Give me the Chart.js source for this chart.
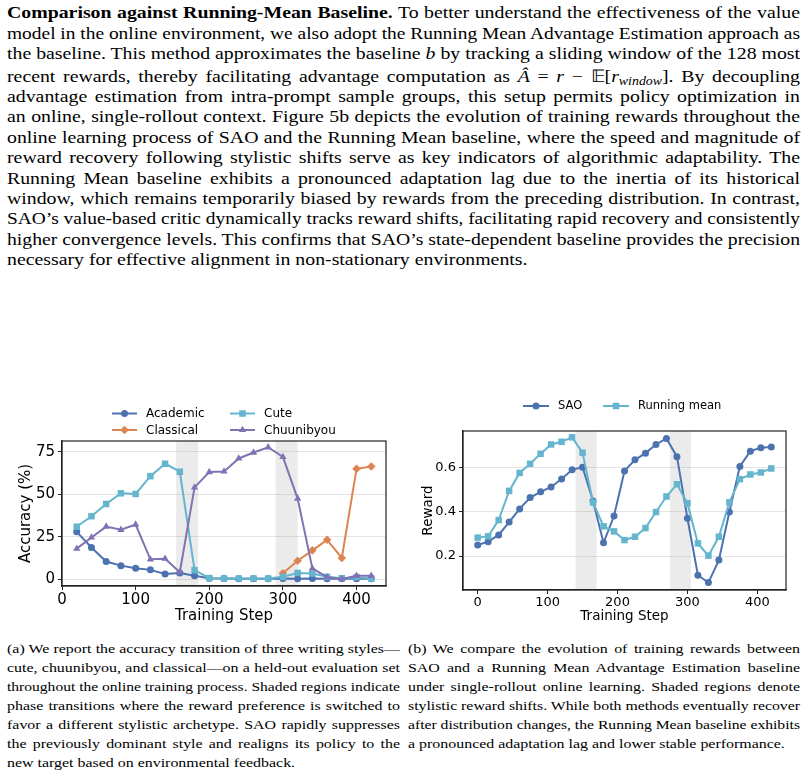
<!DOCTYPE html>
<html>
<head>
<meta charset="utf-8">
<script src="https://cdn.jsdelivr.net/npm/chart.js@4.4.1/dist/chart.umd.min.js"></script>
<style>
  html, body { margin: 0; padding: 0; background: #fff; }
  #page { position: relative; width: 807px; height: 776px; overflow: hidden; font-family: "Liberation Serif", "Times New Roman", serif; color: #000; }
  .ln { position: absolute; white-space: nowrap; }
  .ln > span { display: inline-block; transform-origin: 0 50%; }
  .body { left: 7px; width: 793px; font-size: 17px; line-height: 20px; }
  .cap { font-size: 13.5px; line-height: 19px; }
  .capa { left: 7px; width: 393px; }
  .capb { left: 408px; width: 392px; }
  sub { font-size: 70%; vertical-align: -3px; line-height: 0; }
  .chartbox { position: absolute; }
</style>
</head>
<body>
<div id="page">
  <div class="ln body j" style="top:3px"><b>Comparison against Running-Mean Baseline.</b> To better understand the effectiveness of the value</div>
  <div class="ln body j" style="top:24px">model in the online environment, we also adopt the Running Mean Advantage Estimation approach as</div>
  <div class="ln body j" style="top:44px">the baseline. This method approximates the baseline <i>b</i> by tracking a sliding window of the 128 most</div>
  <div class="ln body j" style="top:67px">recent rewards, thereby facilitating advantage computation as <i>Â</i> = <i>r</i> − 𝔼[<i>r<sub>window</sub></i>]. By decoupling</div>
  <div class="ln body j" style="top:87px">advantage estimation from intra-prompt sample groups, this setup permits policy optimization in</div>
  <div class="ln body j" style="top:107px">an online, single-rollout context. Figure 5b depicts the evolution of training rewards throughout the</div>
  <div class="ln body j" style="top:128px">online learning process of SAO and the Running Mean baseline, where the speed and magnitude of</div>
  <div class="ln body j" style="top:148px">reward recovery following stylistic shifts serve as key indicators of algorithmic adaptability. The</div>
  <div class="ln body j" style="top:169px">Running Mean baseline exhibits a pronounced adaptation lag due to the inertia of its historical</div>
  <div class="ln body j" style="top:189px">window, which remains temporarily biased by rewards from the preceding distribution. In contrast,</div>
  <div class="ln body j" style="top:209px">SAO’s value-based critic dynamically tracks reward shifts, facilitating rapid recovery and consistently</div>
  <div class="ln body j" style="top:230px">higher convergence levels. This confirms that SAO’s state-dependent baseline provides the precision</div>
  <div class="ln body" style="top:250px">necessary for effective alignment in non-stationary environments.</div>

  <div class="chartbox" style="left:0px;top:395px;width:400px;height:230px"><canvas id="chartA"></canvas></div>
  <div class="chartbox" style="left:400px;top:390px;width:407px;height:235px"><canvas id="chartB"></canvas></div>

  <div class="ln cap capa j" style="top:639px">(a) We report the accuracy transition of three writing styles—</div>
  <div class="ln cap capa j" style="top:658px">cute, chuunibyou, and classical—on a held-out evaluation set</div>
  <div class="ln cap capa j" style="top:677px">throughout the online training process. Shaded regions indicate</div>
  <div class="ln cap capa j" style="top:696px">phase transitions where the reward preference is switched to</div>
  <div class="ln cap capa j" style="top:715px">favor a different stylistic archetype. SAO rapidly suppresses</div>
  <div class="ln cap capa j" style="top:734px">the previously dominant style and realigns its policy to the</div>
  <div class="ln cap capa" style="top:753px">new target based on environmental feedback.</div>

  <div class="ln cap capb j" style="top:639px">(b) We compare the evolution of training rewards between</div>
  <div class="ln cap capb j" style="top:658px">SAO and a Running Mean Advantage Estimation baseline</div>
  <div class="ln cap capb j" style="top:677px">under single-rollout online learning. Shaded regions denote</div>
  <div class="ln cap capb j" style="top:696px">stylistic reward shifts. While both methods eventually recover</div>
  <div class="ln cap capb j" style="top:715px">after distribution changes, the Running Mean baseline exhibits</div>
  <div class="ln cap capb" style="top:734px">a pronounced adaptation lag and lower stable performance.</div>
</div>

<script>
// ---- data: figure (a), accuracy per writing style ----
const stepsA = [20, 40, 60, 80, 100, 120, 140, 160, 180, 200, 220, 240, 260, 280, 300, 320, 340, 360, 380, 400, 420];
const academic = [27.9, 18.7, 10.4, 8.0, 6.4, 5.5, 3.1, 3.7, 2.1, 0.6, 0.4, 0.3, 0.3, 0.3, 0.4, 0.3, 0.4, 0.3, 0.3, 0.3, 0.3];
const classical = [null, null, null, null, null, null, null, null, null, null, null, null, null, null, 3.5, 10.9, 17.0, 23.2, 12.5, 65.0, 66.4];
const cute = [30.9, 37.1, 44.3, 50.6, 50.2, 60.7, 68.0, 63.3, 5.3, 0.6, 0.4, 0.4, 0.4, 0.4, 1.4, 3.7, 3.3, 1.4, 0.6, 1.2, 0.4];
const chuunibyou = [18.0, 24.6, 31.0, 29.1, 32.2, 11.7, 12.1, 4.1, 54.1, 63.1, 63.5, 71.1, 74.6, 77.7, 72.0, 47.5, 6.4, 1.2, 0.2, 2.0, 2.0];
const shadedA = [[155, 185], [290, 320]];
const xTicksA = [0, 100, 200, 300, 400];
const yTicksA = [0, 25, 50, 75];

// ---- data: figure (b), training reward ----
const stepsB = [0, 15, 30, 45, 60, 75, 90, 105, 120, 135, 150, 165, 180, 195, 210, 225, 240, 255, 270, 285, 300, 315, 330, 345, 360, 375, 390, 405, 420];
const sao = [0.250, 0.265, 0.295, 0.353, 0.412, 0.463, 0.489, 0.511, 0.547, 0.588, 0.600, 0.448, 0.260, 0.380, 0.583, 0.633, 0.663, 0.702, 0.729, 0.647, 0.370, 0.114, 0.081, 0.182, 0.398, 0.603, 0.672, 0.687, 0.690];
const runningMean = [0.283, 0.289, 0.362, 0.493, 0.574, 0.615, 0.660, 0.702, 0.714, 0.734, 0.665, 0.441, 0.334, 0.311, 0.272, 0.287, 0.326, 0.398, 0.468, 0.523, 0.438, 0.257, 0.202, 0.287, 0.442, 0.546, 0.567, 0.576, 0.594];
const shadedB = [[140, 170], [275, 305]];
const xTicksB = [0, 100, 200, 300, 400];
const yTicksB = [0.2, 0.4, 0.6];

const BLUE = '#4C72B0', ORANGE = '#DD8452', CYAN = '#64B5CD', PURPLE = '#8172B3';
const FONT = '"DejaVu Sans", sans-serif';

// justify each text line like the typeset page: the page's serif runs wider than
// Liberation Serif, so stretch glyphs up to a cap, then spread what is left over the spaces
document.querySelectorAll('.ln').forEach(el => {
  const span = document.createElement('span');
  while (el.firstChild) span.appendChild(el.firstChild);
  el.appendChild(span);
  const target = el.clientWidth;
  const w = span.getBoundingClientRect().width;
  const cap = el.classList.contains('cap') ? 1.18 : 1.165;
  const s = Math.min(cap, target / w);
  span.style.transform = `scaleX(${s})`;
  if (el.classList.contains('j')) {
    const spaces = (span.textContent.match(/ /g) || []).length;
    if (spaces) span.style.wordSpacing = ((target / s - w) / spaces) + 'px';
  }
});

function pts(xs, ys) {
  return xs.map((x, i) => ({x: x, y: ys[i]}));
}

// grey bands + top/right spines
const frame = {
  id: 'frame',
  beforeDatasetsDraw(chart, args, opts) {
    const {ctx, chartArea: a, scales: {x}} = chart;
    ctx.save();
    ctx.fillStyle = 'rgba(128,128,128,0.16)';
    opts.bands.forEach(b => {
      const x0 = x.getPixelForValue(b[0]), x1 = x.getPixelForValue(b[1]);
      ctx.fillRect(x0, a.top, x1 - x0, a.bottom - a.top);
    });
    ctx.restore();
  },
  afterDraw(chart) {
    const {ctx, chartArea: a} = chart;
    ctx.save();
    ctx.strokeStyle = '#222';
    ctx.lineWidth = 1.2;
    ctx.strokeRect(a.left, a.top, a.right - a.left, a.bottom - a.top);
    ctx.restore();
  }
};

// matplotlib style legend: line + marker handle
const mplLegend = {
  id: 'mplLegend',
  afterDraw(chart, args, opts) {
    const ctx = chart.ctx;
    ctx.save();
    ctx.font = opts.font;
    ctx.textBaseline = 'middle';
    opts.items.forEach(it => {
      const ds = chart.data.datasets[it.index];
      ctx.strokeStyle = ds.borderColor;
      ctx.lineWidth = ds.borderWidth;
      ctx.beginPath();
      ctx.moveTo(it.x, it.y);
      ctx.lineTo(it.x + opts.handle, it.y);
      ctx.stroke();
      ctx.fillStyle = ds.backgroundColor;
      Chart.helpers.drawPoint(ctx, {pointStyle: ds.pointStyle, radius: ds.pointRadius, rotation: 0, borderWidth: 0}, it.x + opts.handle / 2, it.y);
      ctx.fillStyle = '#000';
      ctx.fillText(ds.label, it.x + opts.handle + opts.gap, it.y + 0.5);
    });
    ctx.restore();
  }
};

function line(label, xs, ys, color, style, radius, order) {
  return {
    label: label,
    data: pts(xs, ys),
    borderColor: color,
    backgroundColor: color,
    borderWidth: 2,
    pointStyle: style,
    pointRadius: radius,
    pointBorderWidth: 0,
    pointHoverRadius: radius,
    tension: 0,
    spanGaps: false,
    order: order
  };
}

function axes(cfg) {
  return {
    x: {
      type: 'linear',
      min: cfg.xmin, max: cfg.xmax,
      afterBuildTicks: s => { s.ticks = cfg.xTicks.map(v => ({value: v})); },
      afterFit: s => { s.height = cfg.xh; },
      grid: {drawOnChartArea: false, drawTicks: true, tickLength: 4, tickColor: '#222', tickWidth: 1},
      border: {display: true, color: '#222', width: 1.2},
      ticks: {padding: 1, color: '#000', font: {family: FONT, size: cfg.tickSize}, maxRotation: 0},
      title: {display: true, text: 'Training Step', color: '#000', font: {family: FONT, size: cfg.titleSize}, padding: {top: 0, bottom: cfg.xtPad}}
    },
    y: {
      type: 'linear',
      min: cfg.ymin, max: cfg.ymax,
      afterBuildTicks: s => { s.ticks = cfg.yTicks.map(v => ({value: v})); },
      afterFit: s => { s.width = cfg.yw; },
      grid: {color: '#e4e4e4', lineWidth: 1, drawTicks: true, tickLength: 4, tickColor: '#222', tickWidth: 1},
      border: {display: true, color: '#222', width: 1.2},
      ticks: {padding: 3, color: '#000', font: {family: FONT, size: cfg.tickSize}, callback: cfg.fmt},
      title: {display: true, text: cfg.yTitle, color: '#000', font: {family: FONT, size: cfg.titleSize}, padding: {top: cfg.ytPad, bottom: 0}}
    }
  };
}

new Chart(document.getElementById('chartA'), {
  type: 'line',
  data: {
    datasets: [
      line('Academic', stepsA, academic, BLUE, 'circle', 3.5, 4),
      line('Classical', stepsA, classical, ORANGE, 'rectRot', 4.3, 3),
      line('Cute', stepsA, cute, CYAN, 'rect', 4.6, 2),
      line('Chuunibyou', stepsA, chuunibyou, PURPLE, 'triangle', 4.2, 1)
    ]
  },
  options: {
    responsive: true,
    maintainAspectRatio: false,
    animation: false,
    events: [],
    layout: {padding: {top: 46, right: 14, left: 0, bottom: 0}},
    scales: axes({xmin: 0, xmax: 440, ymin: -4, ymax: 81.4, xTicks: xTicksA, yTicks: yTicksA,
      xh: 39, yw: 62, tickSize: 15, titleSize: 15, xtPad: 0, ytPad: 17.5,
      yTitle: 'Accuracy (%)', fmt: v => String(v)}),
    plugins: {
      legend: {display: false},
      tooltip: {enabled: false},
      frame: {bands: shadedA},
      mplLegend: {
        font: '12px ' + FONT, handle: 25, gap: 9,
        items: [
          {index: 0, x: 112, y: 18.5},
          {index: 1, x: 112, y: 35},
          {index: 2, x: 230, y: 18.5},
          {index: 3, x: 230, y: 35}
        ]
      }
    }
  },
  plugins: [frame, mplLegend]
});

new Chart(document.getElementById('chartB'), {
  type: 'line',
  data: {
    datasets: [
      line('SAO', stepsB, sao, BLUE, 'circle', 3.5, 2),
      line('Running mean', stepsB, runningMean, CYAN, 'rect', 4.6, 1)
    ]
  },
  options: {
    responsive: true,
    maintainAspectRatio: false,
    animation: false,
    events: [],
    layout: {padding: {top: 41, right: 21, left: 0, bottom: 0}},
    scales: axes({xmin: -21, xmax: 441, ymin: 0.0475, ymax: 0.7625, xTicks: xTicksB, yTicks: yTicksB,
      xh: 35, yw: 63, tickSize: 13, titleSize: 13.5, xtPad: 0, ytPad: 20,
      yTitle: 'Reward', fmt: v => v.toFixed(1)}),
    plugins: {
      legend: {display: false},
      tooltip: {enabled: false},
      frame: {bands: shadedB},
      mplLegend: {
        font: '11.5px ' + FONT, handle: 26, gap: 9,
        items: [
          {index: 0, x: 123, y: 16},
          {index: 1, x: 203, y: 16}
        ]
      }
    }
  },
  plugins: [frame, mplLegend]
});
</script>
</body>
</html>
